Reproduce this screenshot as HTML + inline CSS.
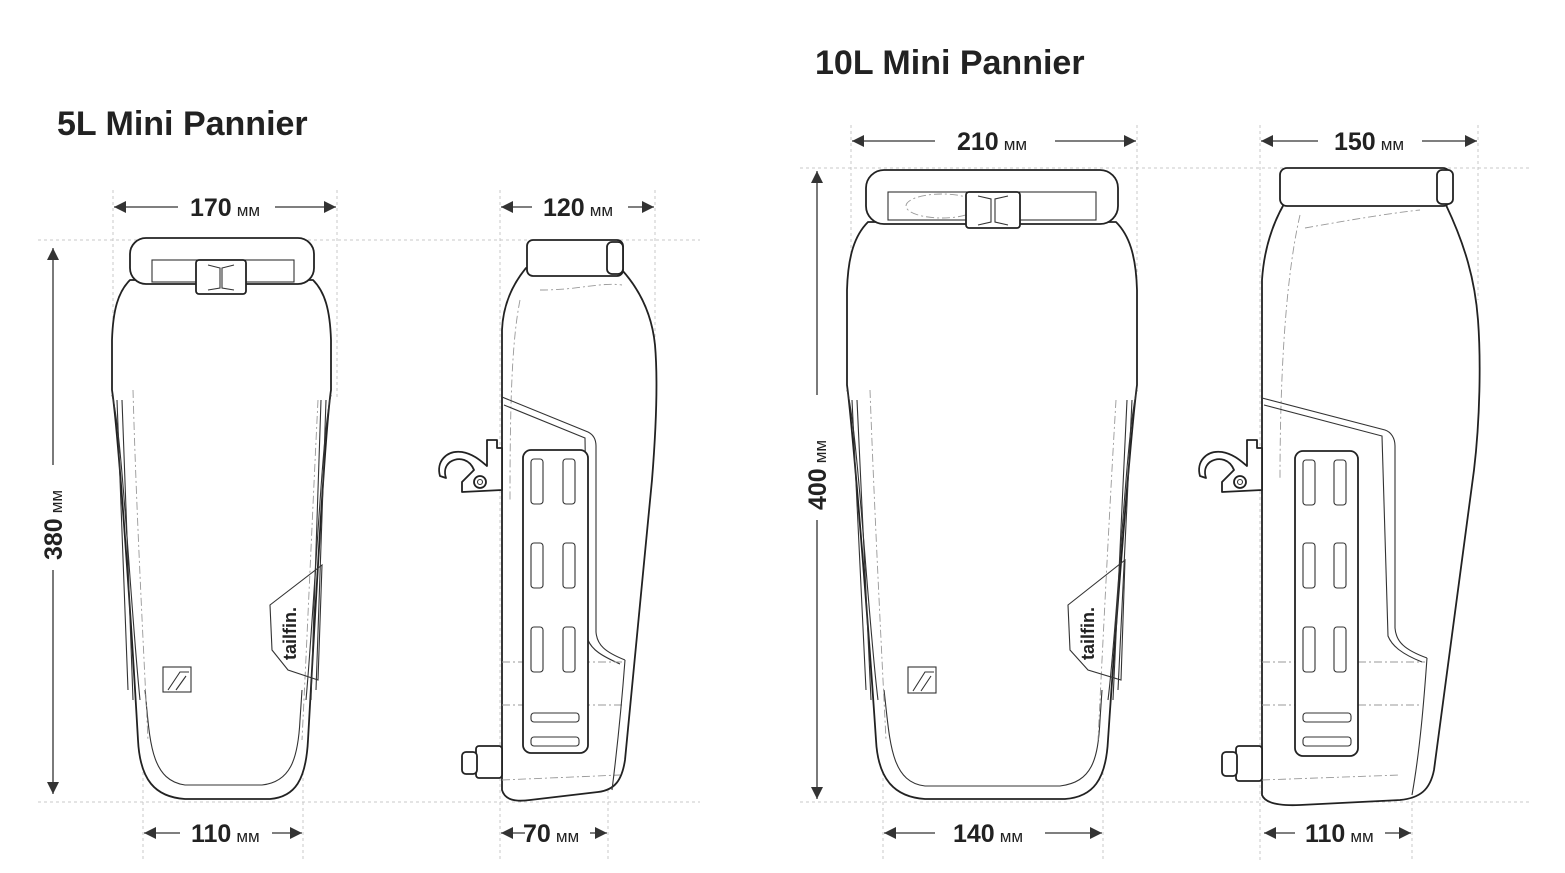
<!DOCTYPE html>
<html><head><meta charset="utf-8"><style>
html,body{margin:0;padding:0;background:#fff;}
svg{display:block;}
.t{font-family:"Liberation Sans",sans-serif;fill:#222;}
.b{font-weight:bold;font-size:25px;}
.u{font-size:17px;}
.g{stroke:#c8c8c8;stroke-width:1;stroke-dasharray:3 3;fill:none;}
.d{stroke:#333;stroke-width:1.3;fill:none;}
.o{stroke:#222;stroke-width:1.8;fill:#fff;stroke-linejoin:round;}
.i{stroke:#333;stroke-width:1.1;fill:none;}
.h{stroke:#999;stroke-width:0.9;fill:none;stroke-dasharray:8 3 2 3;}
</style></head><body>
<svg width="1565" height="873" viewBox="0 0 1565 873" xmlns="http://www.w3.org/2000/svg">
<defs>
<marker id="a" viewBox="0 0 10 10" refX="10" refY="5" markerWidth="16" markerHeight="12" markerUnits="userSpaceOnUse" orient="auto"><path d="M0,0 L10,5 L0,10 z" fill="#333"/></marker>
</defs>

<!-- titles -->
<text x="57" y="135" class="t" style="font-weight:bold;font-size:34px">5L Mini Pannier</text>
<text x="815" y="74" class="t" style="font-weight:bold;font-size:34px">10L Mini Pannier</text>

<!-- guides 5L -->
<line x1="38" y1="240" x2="700" y2="240" class="g"/>
<line x1="38" y1="802" x2="700" y2="802" class="g"/>
<line x1="113" y1="190" x2="113" y2="400" class="g"/>
<line x1="337" y1="190" x2="337" y2="400" class="g"/>
<line x1="143" y1="700" x2="143" y2="860" class="g"/>
<line x1="303" y1="700" x2="303" y2="860" class="g"/>
<line x1="500" y1="190" x2="500" y2="860" class="g"/>
<line x1="655" y1="190" x2="655" y2="400" class="g"/>
<line x1="608" y1="700" x2="608" y2="860" class="g"/>

<!-- guides 10L -->
<line x1="800" y1="168" x2="1530" y2="168" class="g"/>
<line x1="800" y1="802" x2="1530" y2="802" class="g"/>
<line x1="851" y1="125" x2="851" y2="330" class="g"/>
<line x1="1137" y1="125" x2="1137" y2="330" class="g"/>
<line x1="883" y1="700" x2="883" y2="860" class="g"/>
<line x1="1103" y1="700" x2="1103" y2="860" class="g"/>
<line x1="1260" y1="125" x2="1260" y2="860" class="g"/>
<line x1="1478" y1="125" x2="1478" y2="300" class="g"/>
<line x1="1412" y1="700" x2="1412" y2="860" class="g"/>

<!-- dimension lines -->
<line x1="178" y1="207" x2="114" y2="207" class="d" marker-end="url(#a)"/>
<line x1="275" y1="207" x2="336" y2="207" class="d" marker-end="url(#a)"/>
<text x="190" y="216" class="t"><tspan class="b">170</tspan><tspan class="u" dx="5">мм</tspan></text>

<line x1="532" y1="207" x2="501" y2="207" class="d" marker-end="url(#a)"/>
<line x1="628" y1="207" x2="654" y2="207" class="d" marker-end="url(#a)"/>
<text x="543" y="216" class="t"><tspan class="b">120</tspan><tspan class="u" dx="5">мм</tspan></text>

<line x1="180" y1="833" x2="144" y2="833" class="d" marker-end="url(#a)"/>
<line x1="272" y1="833" x2="302" y2="833" class="d" marker-end="url(#a)"/>
<text x="191" y="842" class="t"><tspan class="b">110</tspan><tspan class="u" dx="5">мм</tspan></text>

<line x1="525" y1="833" x2="501" y2="833" class="d" marker-end="url(#a)"/>
<line x1="590" y1="833" x2="607" y2="833" class="d" marker-end="url(#a)"/>
<text x="523" y="842" class="t"><tspan class="b">70</tspan><tspan class="u" dx="5">мм</tspan></text>

<line x1="53" y1="465" x2="53" y2="248" class="d" marker-end="url(#a)"/>
<line x1="53" y1="570" x2="53" y2="794" class="d" marker-end="url(#a)"/>
<text transform="translate(62,560) rotate(-90)" class="t"><tspan class="b">380</tspan><tspan class="u" dx="5">мм</tspan></text>

<line x1="935" y1="141" x2="852" y2="141" class="d" marker-end="url(#a)"/>
<line x1="1055" y1="141" x2="1136" y2="141" class="d" marker-end="url(#a)"/>
<text x="957" y="150" class="t"><tspan class="b">210</tspan><tspan class="u" dx="5">мм</tspan></text>

<line x1="1318" y1="141" x2="1261" y2="141" class="d" marker-end="url(#a)"/>
<line x1="1422" y1="141" x2="1477" y2="141" class="d" marker-end="url(#a)"/>
<text x="1334" y="150" class="t"><tspan class="b">150</tspan><tspan class="u" dx="5">мм</tspan></text>

<line x1="817" y1="395" x2="817" y2="171" class="d" marker-end="url(#a)"/>
<line x1="817" y1="520" x2="817" y2="799" class="d" marker-end="url(#a)"/>
<text transform="translate(826,510) rotate(-90)" class="t"><tspan class="b">400</tspan><tspan class="u" dx="5">мм</tspan></text>

<line x1="935" y1="833" x2="884" y2="833" class="d" marker-end="url(#a)"/>
<line x1="1045" y1="833" x2="1102" y2="833" class="d" marker-end="url(#a)"/>
<text x="953" y="842" class="t"><tspan class="b">140</tspan><tspan class="u" dx="5">мм</tspan></text>

<line x1="1295" y1="833" x2="1264" y2="833" class="d" marker-end="url(#a)"/>
<line x1="1385" y1="833" x2="1411" y2="833" class="d" marker-end="url(#a)"/>
<text x="1305" y="842" class="t"><tspan class="b">110</tspan><tspan class="u" dx="5">мм</tspan></text>

<!-- ========== 5L FRONT ========== -->
<path class="o" d="M130,280 C118,292 113,310 112,340 L112,390 C118,430 130,600 138,740 C140,780 155,797 185,799 L270,799 C295,797 306,780 308,740 C316,600 325,430 331,390 L331,340 C330,310 325,292 313,280 Z"/>
<path class="i" d="M112,395 C122,430 130,600 140,700"/>
<path class="i" d="M331,395 C322,430 315,600 306,700"/>
<path class="i" d="M145,690 C150,740 150,780 185,785 L262,785 C290,782 298,760 300,720 L302,690"/>
<path class="i" d="M117,400 L128,690 M122,400 L133,700 M326,400 L316,690 M321,400 L311,700"/>
<path class="h" d="M133,390 C136,500 142,620 148,740 M318,400 C313,500 308,620 302,740"/>
<path class="i" d="M270,605 L322,565 L318,680 L288,670 L272,650 Z"/>
<text transform="translate(296,660) rotate(-90)" class="t" style="font-size:18px;font-weight:bold">tailfin.</text>
<rect x="163" y="667" width="28" height="25" class="i"/>
<path class="i" d="M168,690 L180,672 L189,672 M176,690 L186,676"/>
<rect x="130" y="238" width="184" height="46" rx="16" class="o"/>
<rect x="152" y="260" width="142" height="22" class="i"/>
<rect x="196" y="260" width="50" height="34" rx="3" class="o"/>
<path class="i" d="M208,265 L220,268 L220,288 L208,290 M234,265 L222,268 L222,288 L234,290"/>

<!-- ========== 5L SIDE ========== -->
<path class="o" d="M526,268 C512,285 503,305 502,330 L502,790 C505,800 515,802 530,800 L598,792 C615,790 622,780 625,760 L652,480 C656,430 658,380 655,345 C652,315 640,290 622,270 Z"/>
<path class="h" d="M540,290 C580,290 600,282 622,285 M520,300 C512,340 510,400 510,500"/>
<path class="i" d="M502,397 L588,432 C594,435 596,440 596,446 L596,632 C597,645 605,652 625,660"/>
<path class="i" d="M504,405 L585,438 L588,640 C592,650 602,656 620,664"/>
<path class="h" d="M502,662 L622,662 M502,705 L622,705 M502,780 L620,775"/>
<path class="i" d="M625,660 C622,700 617,750 612,790"/>
<rect x="523" y="450" width="65" height="303" rx="8" class="o"/>
<rect x="531" y="459" width="12" height="45" rx="3" class="i"/>
<rect x="563" y="459" width="12" height="45" rx="3" class="i"/>
<rect x="531" y="543" width="12" height="45" rx="3" class="i"/>
<rect x="563" y="543" width="12" height="45" rx="3" class="i"/>
<rect x="531" y="627" width="12" height="45" rx="3" class="i"/>
<rect x="563" y="627" width="12" height="45" rx="3" class="i"/>
<rect x="531" y="713" width="48" height="9" rx="3" class="i"/>
<rect x="531" y="737" width="48" height="9" rx="3" class="i"/>
<rect x="527" y="240" width="96" height="36" rx="6" class="o"/>
<rect x="607" y="242" width="16" height="32" rx="5" class="o"/>
<!-- clip -->
<path class="o" d="M487,440 L497,440 L497,448 L502,448 L502,490 L462,492 L462,482 L474,470 C470,460 460,456 450,462 C445,466 444,472 446,478 L440,476 C436,462 446,450 462,452 C474,454 482,462 487,466 Z"/>
<circle cx="480" cy="482" r="6" class="o"/><circle cx="480" cy="482" r="2.5" class="i"/>
<rect x="476" y="746" width="26" height="32" rx="3" class="o"/>
<rect x="462" y="752" width="15" height="22" rx="4" class="o"/>

<!-- ========== 10L FRONT ========== -->
<path class="o" d="M868,222 C855,235 848,255 847,290 L847,385 C853,430 868,620 876,740 C878,780 895,797 925,799 L1065,799 C1093,797 1106,780 1108,740 C1116,620 1131,430 1137,385 L1137,290 C1136,255 1129,235 1116,222 Z"/>
<path class="i" d="M847,390 C858,430 868,620 878,700"/>
<path class="i" d="M1137,390 C1126,430 1118,620 1108,700"/>
<path class="i" d="M884,690 C890,740 890,782 925,786 L1060,786 C1092,782 1098,760 1100,720 L1102,690"/>
<path class="i" d="M852,400 L866,690 M857,400 L871,700 M1132,400 L1118,690 M1127,400 L1113,700"/>
<path class="h" d="M870,390 C874,500 880,620 886,740 M1116,400 C1110,500 1104,620 1098,740"/>
<path class="i" d="M1068,605 L1125,560 L1121,680 L1088,670 L1070,650 Z"/>
<text transform="translate(1094,660) rotate(-90)" class="t" style="font-size:18px;font-weight:bold">tailfin.</text>
<rect x="908" y="667" width="28" height="26" class="i"/>
<path class="i" d="M913,691 L925,672 L934,672 M921,691 L931,676"/>
<rect x="866" y="170" width="252" height="54" rx="18" class="o"/>
<rect x="888" y="192" width="208" height="28" class="i"/>
<ellipse cx="942" cy="206" rx="36" ry="12" class="h"/>
<rect x="966" y="192" width="54" height="36" rx="3" class="o"/>
<path class="i" d="M978,196 L991,199 L991,222 L978,225 M1008,196 L995,199 L995,222 L1008,225"/>

<!-- ========== 10L SIDE ========== -->
<path class="o" d="M1284,204 C1272,225 1264,250 1262,280 L1262,795 C1265,803 1278,806 1300,805 L1400,800 C1420,798 1430,790 1434,770 L1474,470 C1480,420 1481,360 1478,320 C1475,280 1465,245 1446,205 Z"/>
<path class="h" d="M1300,215 C1285,280 1280,380 1280,480 M1305,228 C1360,218 1400,212 1420,210"/>
<path class="i" d="M1262,398 L1385,430 C1391,432 1395,438 1395,446 L1395,628 C1396,642 1405,650 1427,658"/>
<path class="i" d="M1264,405 L1382,436 L1388,636 C1392,646 1402,654 1422,662"/>
<path class="h" d="M1262,662 L1425,662 M1262,705 L1420,705 M1262,780 L1400,775"/>
<path class="i" d="M1427,658 C1424,700 1420,750 1412,795"/>
<rect x="1295" y="451" width="63" height="305" rx="8" class="o"/>
<rect x="1303" y="460" width="12" height="45" rx="3" class="i"/>
<rect x="1334" y="460" width="12" height="45" rx="3" class="i"/>
<rect x="1303" y="543" width="12" height="45" rx="3" class="i"/>
<rect x="1334" y="543" width="12" height="45" rx="3" class="i"/>
<rect x="1303" y="627" width="12" height="45" rx="3" class="i"/>
<rect x="1334" y="627" width="12" height="45" rx="3" class="i"/>
<rect x="1303" y="713" width="48" height="9" rx="3" class="i"/>
<rect x="1303" y="737" width="48" height="9" rx="3" class="i"/>
<rect x="1280" y="168" width="170" height="38" rx="7" class="o"/>
<rect x="1437" y="170" width="16" height="34" rx="5" class="o"/>
<path class="o" d="M1247,440 L1257,440 L1257,448 L1262,448 L1262,490 L1222,492 L1222,482 L1234,470 C1230,460 1220,456 1210,462 C1205,466 1204,472 1206,478 L1200,476 C1196,462 1206,450 1222,452 C1234,454 1242,462 1247,466 Z"/>
<circle cx="1240" cy="482" r="6" class="o"/><circle cx="1240" cy="482" r="2.5" class="i"/>
<rect x="1236" y="746" width="26" height="35" rx="3" class="o"/>
<rect x="1222" y="752" width="15" height="24" rx="4" class="o"/>
</svg>
</body></html>
